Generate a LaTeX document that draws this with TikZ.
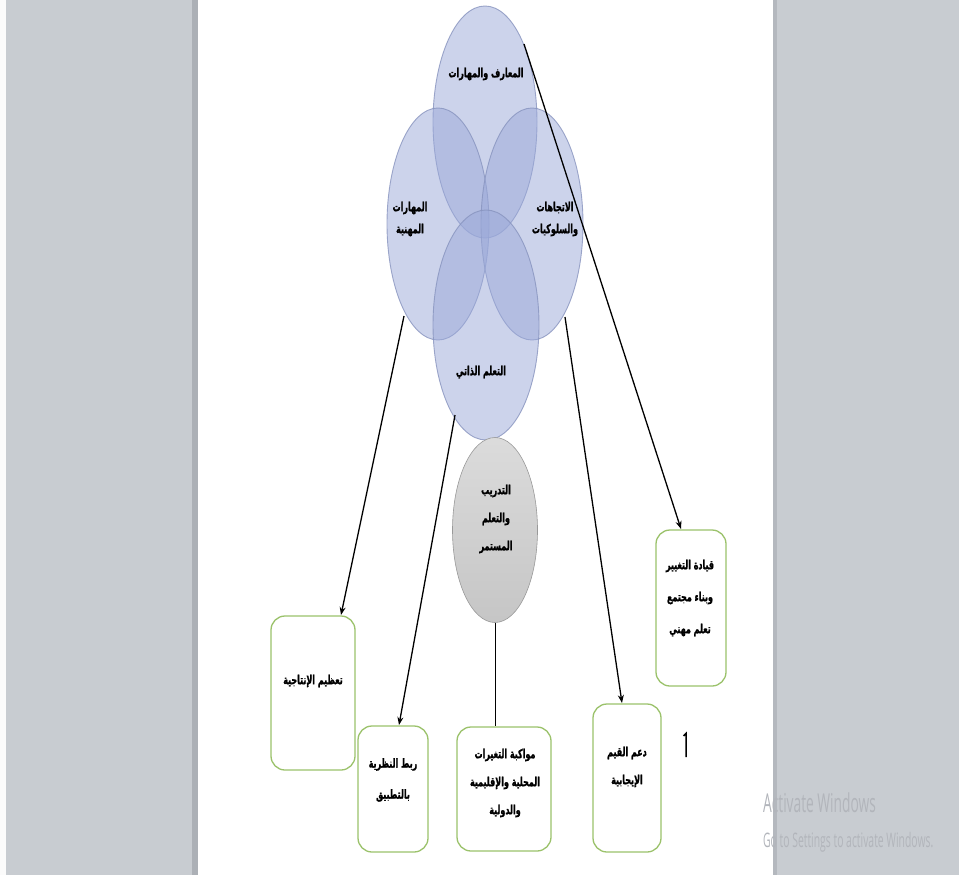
\documentclass[tikz,border=0pt]{standalone}
\usepackage{fontspec}
\setmainfont{Liberation Sans}
\newfontfamily\arabicfont[Script=Arabic, BoldFeatures={FakeBold=1.6}]{DejaVu Sans}
\newfontfamily\winfont{Open Sans}
\TeXXeTstate=1
\usetikzlibrary{arrows.meta,shapes.geometric}
\newcommand{\arl}[1]{\beginR #1\endR}
\definecolor{bgGrey}{RGB}{200,204,209}
\definecolor{shadowGrey}{RGB}{172,176,182}
\definecolor{vennFill}{RGB}{155,169,217}
\definecolor{vennLine}{RGB}{135,147,190}
\definecolor{boxGreen}{RGB}{155,194,107}
\definecolor{wmText}{RGB}{178,181,187}
\tikzset{
  venn/.style={ellipse, draw=vennLine, line width=0.9pt, fill=vennFill, fill opacity=0.5, draw opacity=0.8, inner sep=0pt},
  lbl/.style={font=\arabicfont\bfseries\fontsize{12.5}{22}\selectfont, align=center, text=black, xscale=0.64},
  boxlbl/.style={font=\arabicfont\bfseries\fontsize{12.5}{28}\selectfont, align=center, text=black, xscale=0.64},
  gbox/.style={draw=boxGreen, line width=1.3pt, rounded corners=14pt, fill=white},
  arr/.style={line width=1.3pt, -{Stealth[length=8pt,width=6pt]}},
  wm/.style={text=wmText, anchor=base west, inner sep=0pt}
}
\begin{document}
\begin{tikzpicture}[x=1pt,y=-1pt]
\useasboundingbox (0,0) rectangle (959,875);
% window background
\fill[bgGrey] (0,0) rectangle (959,875);
\fill[white!92!bgGrey] (0,0) rectangle (6,875);
\fill[shadowGrey] (192,0) rectangle (198,875);
\fill[white] (198,0) rectangle (773,875);
\fill[shadowGrey!70!bgGrey] (773,0) rectangle (777,875);

% Venn ellipses
\node[venn, minimum width=104pt, minimum height=232pt] (eTop) at (485,122) {};
\node[venn, minimum width=102pt, minimum height=232pt] (eLeft) at (438,224) {};
\node[venn, minimum width=102pt, minimum height=232pt] (eRight) at (532,224) {};
\node[venn, minimum width=106pt, minimum height=230pt] (eBot) at (486,325) {};

\node[lbl] (tTop) at (486,74) {\arl{المعارف والمهارات}};
\node[lbl] (tLeft) at (410,219) {\arl{المهارات}\\\arl{المهنية}};
\node[lbl] (tRight) at (555,219) {\arl{الاتجاهات}\\\arl{والسلوكيات}};
\node[lbl] (tBot) at (481,372) {\arl{التعلم الذاتي}};

% grey ellipse
\node[ellipse, minimum width=85pt, minimum height=185pt, inner sep=0pt, draw=gray!80, line width=0.6pt, top color=gray!28, bottom color=gray!45] (eGrey) at (495,530) {};
\node[boxlbl] (tGrey) at (496,519) {\arl{التدريب}\\\arl{والتعلم}\\\arl{المستمر}};

% boxes
\node[gbox, minimum width=70pt, minimum height=156pt] (bLead) at (691,608) {};
\node[boxlbl, font=\arabicfont\bfseries\fontsize{12.5}{32}\selectfont] (tLead) at (690,598) {\arl{قيادة التغيير}\\\arl{وبناء مجتمع}\\\arl{تعلم مهني}};
\node[gbox, minimum width=84pt, minimum height=154pt] (bProd) at (313,693) {};
\node[boxlbl] (tProd) at (313,681) {\arl{تعظيم الإنتاجية}};
\node[gbox, minimum width=70pt, minimum height=126pt] (bLink) at (393,789) {};
\node[boxlbl, font=\arabicfont\bfseries\fontsize{12.5}{31}\selectfont] (tLink) at (393,780) {\arl{ربط النظرية}\\\arl{بالتطبيق}};
\node[gbox, minimum width=94pt, minimum height=124pt] (bKeep) at (504,789) {};
\node[boxlbl] (tKeep) at (505,783) {\arl{مواكبة التغيرات}\\\arl{المحلية والإقليمية}\\\arl{والدولية}};
\node[gbox, minimum width=68pt, minimum height=148pt] (bVal) at (627,778) {};
\node[boxlbl] (tVal) at (627,767) {\arl{دعم القيم}\\\arl{الإيجابية}};

% connectors
\coordinate (s1) at (524,44);
\coordinate (e1) at (681,529);
\coordinate (s2) at (404,316);
\coordinate (e2) at (341,615);
\coordinate (s3) at (455,415);
\coordinate (e3) at (399,725);
\coordinate (s4) at (565,317);
\coordinate (e4) at (622,703);
\draw[arr] (s1) -- (e1);
\draw[arr] (s2) -- (e2);
\draw[arr] (s3) -- (e3);
\draw[arr] (s4) -- (e4);
\draw[line width=1pt] (eGrey.south) -- (eGrey.south |- bKeep.north);

% stray mark
\draw[line width=1.5pt] (683.5,736) -- (686,733.5) -- (686,757);

% watermark
\node[wm, xscale=0.53, font=\winfont\fontsize{26}{26}\selectfont] (wm1) at (763,812) {Activate Windows};
\node[wm, xscale=0.52, font=\winfont\fontsize{20}{20}\selectfont] (wm2) at (763,847) {Go to Settings to activate Windows.};
\end{tikzpicture}
\end{document}
